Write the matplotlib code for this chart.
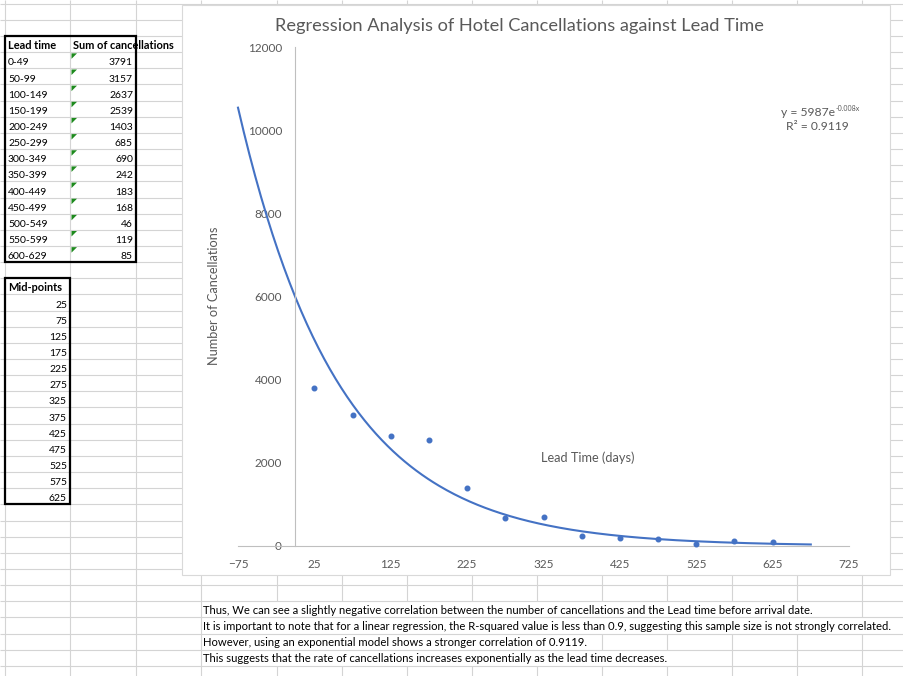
import numpy as np
import matplotlib
matplotlib.use('Agg')
import matplotlib.pyplot as plt
from matplotlib.patches import Rectangle, Polygon
from matplotlib.collections import LineCollection

# ---------------- data ----------------
lead_time = ['0-49', '50-99', '100-149', '150-199', '200-249', '250-299', '300-349',
             '350-399', '400-449', '450-499', '500-549', '550-599', '600-629']
cancellations = [3791, 3157, 2637, 2539, 1403, 685, 690, 242, 183, 168, 46, 119, 85]
midpoints = [25, 75, 125, 175, 225, 275, 325, 375, 425, 475, 525, 575, 625]
x_ticks = [-75, 25, 125, 225, 325, 425, 525, 625, 725]
y_ticks = [0, 2000, 4000, 6000, 8000, 10000, 12000]
title = 'Regression Analysis of Hotel Cancellations against Lead Time'
x_label = 'Lead Time (days)'
y_label = 'Number of Cancellations'
eq_main = 'y = 5987e'
eq_exp = '-0.008x'
r2_label = 'R\u00b2 = 0.9119'
table_headers = ['Lead time', 'Sum of cancellations']
mid_header = 'Mid-points'
notes = [
    'Thus, We can see a slightly negative correlation between the number of cancellations and the Lead time before arrival date.',
    'It is important to note that for a linear regression, the R-squared value is less than 0.9, suggesting this sample size is not strongly correlated.',
    'However, using an exponential model shows a stronger correlation of 0.9119.',
    'This suggests that the rate of cancellations increases exponentially as the lead time decreases.',
]

# ---------------- style ----------------
plt.rcParams['font.family'] = ['Lato', 'DejaVu Sans']
W, H = 904, 676
GRID = '#D4D4D4'
CHART_TXT = '#595959'
BLUE = '#4472C4'

fig = plt.figure(figsize=(W / 100, H / 100), dpi=100)
renderer = fig.canvas.get_renderer()


def fit(s, target, weight='normal'):
    t = fig.text(0, 0, s, fontsize=10, fontweight=weight)
    w = t.get_window_extent(renderer=renderer).width
    t.remove()
    return 10 * target / w


cell_fs = fit('100-149', 40)
head_fs = fit('Sum of cancellations', 101, 'bold')
tick_fs = fit('12000', 34)
lab_fs = fit(x_label, 94)
title_fs = fit(title, 490)
eq_fs = fit(r2_label, 63)
sup_fs = fit(eq_exp, 24)
note_fs = fit(notes[1], 690)

# ---------------- spreadsheet background ----------------
bg = fig.add_axes([0, 0, 1, 1])
bg.set_xlim(0, W)
bg.set_ylim(H, 0)
bg.axis('off')

def row_top(k):
    return 36 + 16.15 * (k - 2)

n_rows = 42
col_x = [5, 70, 136, 201, 277, 342, 407, 472, 537, 602, 667, 732, 797, 862]

# horizontal grid lines
segs = [[(0, row_top(k)), (W, row_top(k))] for k in range(n_rows)]
# vertical grid lines, hidden where text overflows
overflow = {37: 812, 38: 893, 39: 582, 40: 668}
for x in col_x:
    for k in range(-1, n_rows):
        y0 = 0 if k < 0 else row_top(k)
        y1 = row_top(k + 1) if k + 1 < n_rows else H
        if k in overflow and 201 < x < overflow[k]:
            continue
        segs.append([(x, y0), (x, y1)])
bg.add_collection(LineCollection(segs, colors=GRID, linewidths=0.8, zorder=1))

# table borders
bg.add_patch(Rectangle((5, row_top(2)), 131, row_top(16) - row_top(2), fill=False,
                       edgecolor='black', linewidth=1.6, zorder=3))
bg.add_patch(Rectangle((5, row_top(17)), 65, row_top(31) - row_top(17), fill=False,
                       edgecolor='black', linewidth=1.6, zorder=3))

# table 1 text
base = 13.2
bg.text(8, row_top(2) + base, table_headers[0], fontsize=head_fs, fontweight='bold',
        va='baseline', ha='left', zorder=4)
bg.text(73, row_top(2) + base, table_headers[1], fontsize=head_fs, fontweight='bold',
        va='baseline', ha='left', zorder=4)
for i, (lt, c) in enumerate(zip(lead_time, cancellations)):
    top = row_top(3 + i)
    bg.text(8, top + base, lt, fontsize=cell_fs, va='baseline', ha='left', zorder=4)
    bg.text(133, top + base, str(c), fontsize=cell_fs, va='baseline', ha='right', zorder=4)
    bg.add_patch(Polygon([(71.5, top + 1.2), (77, top + 1.2), (71.5, top + 6.7)],
                         closed=True, facecolor='#1E8A1E', edgecolor='none', zorder=4))

# table 2 text
bg.text(8, row_top(17) + base, mid_header, fontsize=head_fs, fontweight='bold',
        va='baseline', ha='left', zorder=4)
for i, m in enumerate(midpoints):
    bg.text(67, row_top(18 + i) + base, str(m), fontsize=cell_fs, va='baseline',
            ha='right', zorder=4)

# notes
for i, s in enumerate(notes):
    bg.text(203.5, row_top(37 + i) + 12.5, s, fontsize=note_fs, va='baseline',
            ha='left', zorder=4)

# chart container
bg.add_patch(Rectangle((182, 5), 708, 570, facecolor='white', edgecolor='#D9D9D9',
                       linewidth=0.8, zorder=5))

# chart texts
bg.text(519.5, 30.5, title, fontsize=title_fs, color=CHART_TXT, ha='center',
        va='baseline', zorder=6)
bg.text(214, 296, y_label, fontsize=lab_fs, color=CHART_TXT, rotation=90,
        ha='center', va='center', zorder=6)
bg.text(540.7, 462, x_label, fontsize=lab_fs, color=CHART_TXT, ha='left',
        va='baseline', zorder=6)
bg.text(835, 116.5, eq_main, fontsize=eq_fs, color=CHART_TXT, ha='right',
        va='baseline', zorder=6)
bg.text(835.5, 110.8, eq_exp, fontsize=sup_fs, color=CHART_TXT, ha='left',
        va='baseline', zorder=6)
bg.text(817.5, 130, r2_label, fontsize=eq_fs, color=CHART_TXT, ha='center',
        va='baseline', zorder=6)

# ---------------- chart ----------------
x0, x1, y0, y1 = 238, 849, 546, 47
ax = fig.add_axes([x0 / W, 1 - y0 / H, (x1 - x0) / W, (y0 - y1) / H])
ax.set_zorder(10)
ax.patch.set_visible(False)
ax.set_xlim(-75, 725)
ax.set_ylim(0, 12000)
ax.set_xticks(x_ticks)
ax.set_yticks(y_ticks)
ax.spines['left'].set_position(('data', 0))
ax.spines['bottom'].set_position(('data', 0))
ax.spines['top'].set_visible(False)
ax.spines['right'].set_visible(False)
for sp in ('left', 'bottom'):
    ax.spines[sp].set_color('#BFBFBF')
    ax.spines[sp].set_linewidth(0.8)
ax.tick_params(length=0, labelsize=tick_fs, labelcolor=CHART_TXT)
ax.tick_params(axis='y', pad=9.6)
ax.tick_params(axis='x', pad=9.0)

# exponential trendline (least squares on log values)
b, ln_a = np.polyfit(midpoints, np.log(cancellations), 1)
xt = np.linspace(-75, 675, 300)
ax.plot(xt, np.exp(ln_a) * np.exp(b * xt), color=BLUE, linewidth=1.5, zorder=2,
        clip_on=False)
ax.plot(midpoints, cancellations, 'o', color=BLUE, markersize=3.3, zorder=3,
        clip_on=False)

fig.savefig('out.png', dpi=100)
